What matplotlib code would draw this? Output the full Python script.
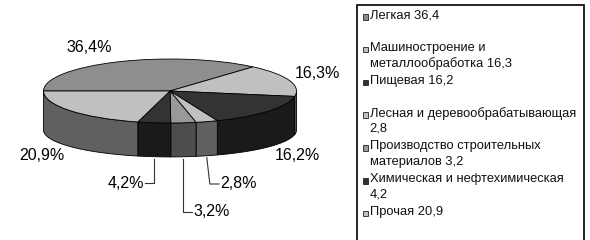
import matplotlib
matplotlib.use("Agg")
import matplotlib.pyplot as plt
import numpy as np
from matplotlib.patches import Polygon, Rectangle

plt.rcParams['font.family'] = ['Liberation Sans', 'DejaVu Sans']

# data
categories = ["Легкая", "Машиностроение и\nметаллообработка", "Пищевая",
              "Лесная и деревообрабатывающая\n", "Производство строительных\nматериалов",
              "Химическая и нефтехимическая\n", "Прочая"]
values = [36.4, 16.3, 16.2, 2.8, 3.2, 4.2, 20.9]

top_colors = ["#8e8e8e", "#c0c0c0", "#333333", "#c0c0c0", "#999999", "#333333", "#c0c0c0"]
wall_colors = ["#474747", "#606060", "#1a1a1a", "#606060", "#4d4d4d", "#1a1a1a", "#606060"]

W, H = 590, 240
CX, CY, A, B = 170, 91, 126.5, 32.0   # ellipse centre / semi-axes in pixels
DEPTH, K = 1.22, 0.84                  # wall depth and bottom flattening (units of B)


def fmt(v):
    return f"{v:.1f}".replace(".", ",")


def px2data(px, py):
    return (px - CX) / A, (CY - py) / B


def px2fig(px, py):
    return px / W, 1 - py / H


fig = plt.figure(figsize=(W / 100, H / 100), dpi=100)
ax = fig.add_axes([0, 0, 1, 1])

wedges, _ = ax.pie(values, colors=top_colors, startangle=180, counterclock=False,
                   wedgeprops=dict(edgecolor="black", linewidth=0.6))
ax.set_aspect("auto")
ax.set_xlim(-CX / A, (W - CX) / A)
ax.set_ylim(-(H - CY) / B, CY / B)
ax.axis("off")

# side walls for the front half
for w, wc in zip(wedges, wall_colors):
    lo, hi = max(w.theta1, -180), min(w.theta2, 0)
    if hi <= lo:
        continue
    t = np.radians(np.linspace(lo, hi, 60))
    top = np.column_stack([np.cos(t), np.sin(t)])
    bot = np.column_stack([np.cos(t), K * np.sin(t) - DEPTH])[::-1]
    ax.add_patch(Polygon(np.vstack([top, bot]), closed=True, facecolor=wc,
                         edgecolor="black", linewidth=0.6, zorder=0.5))

# percentage labels
big_pos = {0: (89, 47), 1: (317, 74), 2: (297, 156), 6: (42, 156)}
for i, (px, py) in big_pos.items():
    x, y = px2data(px, py)
    ax.text(x, y, fmt(values[i]) + "%", ha="center", va="center", fontsize=11.5)

# small slices with leader lines: (text x, text y, ha)
small_pos = {5: (144, 183, "right"), 4: (193, 212, "left"), 3: (220, 184, "left")}
for i, (tx, ty, ha) in small_pos.items():
    w = wedges[i]
    tm = np.radians((w.theta1 + w.theta2) / 2)
    ax0, ay0 = np.cos(tm), K * np.sin(tm) - DEPTH - 0.06
    apx = CX + ax0 * A
    if i == 3:
        knee = px2data(apx + 3, ty)
    else:
        knee = px2data(apx, ty)
    end = px2data(tx - 1 if ha == "left" else tx + 1, ty)
    ax.plot([ax0, knee[0], end[0]], [ay0, knee[1], end[1]], color="#333333", lw=0.8)
    x, y = px2data(tx, ty)
    ax.text(x, y, fmt(values[i]) + "%", ha=ha, va="center", fontsize=11.5)

# legend box
x0, y0 = px2fig(357, 5)
x1, y1 = px2fig(584, 250)
fig.patches.append(Rectangle((x0, y1), x1 - x0, y0 - y1, transform=fig.transFigure,
                             facecolor="white", edgecolor="black", linewidth=1.2, zorder=0))

entry_y0, pitch, line_h = 15, 32.8, 15.5
for i, (cat, v) in enumerate(zip(categories, values)):
    label = cat + ("" if cat.endswith("\n") else " ") + fmt(v)
    ey = entry_y0 + i * pitch
    mx, my = px2fig(362.5, ey + 4.5)
    fig.patches.append(Rectangle((mx, my), 5.5 / W, 5.5 / H, transform=fig.transFigure,
                                 facecolor=top_colors[i], edgecolor="#222222",
                                 linewidth=0.6, zorder=2))
    for j, line in enumerate(label.split("\n")):
        lx, ly = px2fig(369.5, ey + j * line_h)
        fig.text(lx, ly, line, ha="left", va="center", fontsize=9.3, color="#111111")

fig.savefig("out.png", dpi=100)
